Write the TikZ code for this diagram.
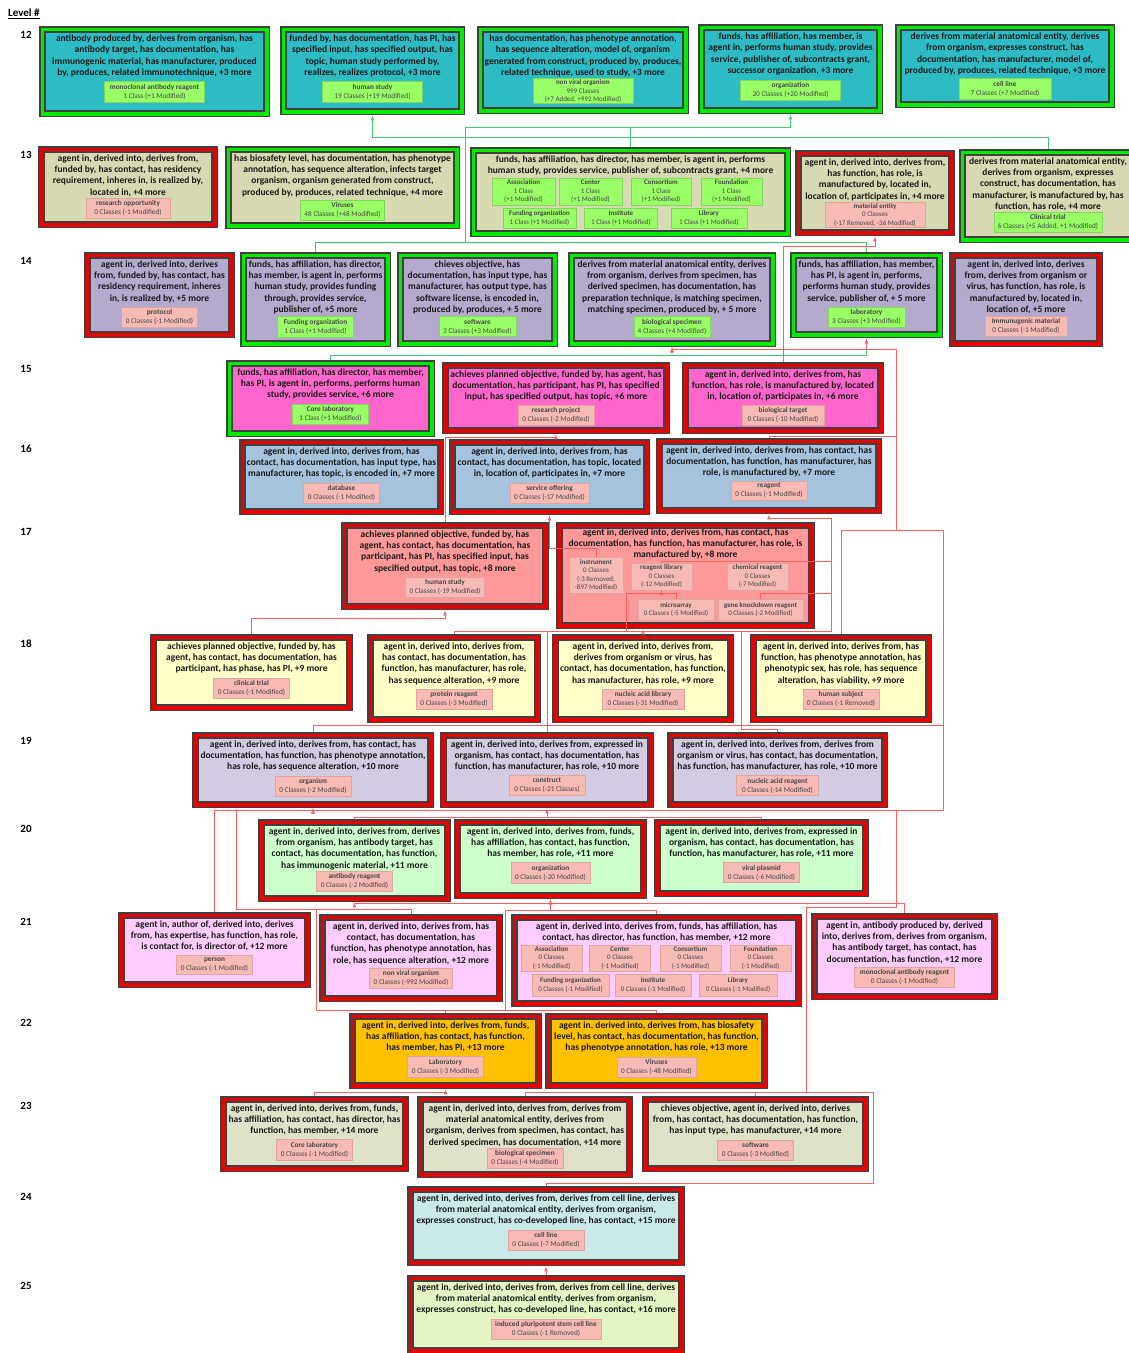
\documentclass[tikz,border=0pt]{standalone}
\usepackage{fontspec}
\setmainfont{Carlito}
\usepackage{tikz}
\usetikzlibrary{positioning, arrows, fit}

\definecolor{edgegray}{RGB}{64,64,64}
\definecolor{framegreen}{RGB}{0,235,0}
\definecolor{framered}{RGB}{235,0,0}
\definecolor{textdark}{RGB}{25,25,25}
\definecolor{subtext}{RGB}{70,70,70}
\definecolor{subgreen}{RGB}{153,255,102}
\definecolor{subgreenline}{RGB}{130,215,95}
\definecolor{subred}{RGB}{248,186,181}
\definecolor{subredline}{RGB}{225,165,160}
\definecolor{linegreen}{RGB}{70,200,110}
\definecolor{linered}{RGB}{255,95,95}
\definecolor{lev12}{RGB}{45,187,196}
\definecolor{lev13}{RGB}{214,217,177}
\definecolor{lev14}{RGB}{179,170,206}
\definecolor{lev15}{RGB}{255,102,204}
\definecolor{lev16}{RGB}{165,195,221}
\definecolor{lev17}{RGB}{255,153,153}
\definecolor{lev18}{RGB}{255,255,200}
\definecolor{lev19}{RGB}{211,203,226}
\definecolor{lev20}{RGB}{204,255,204}
\definecolor{lev21}{RGB}{255,204,255}
\definecolor{lev22}{RGB}{255,192,0}
\definecolor{lev23}{RGB}{223,225,201}
\definecolor{lev24}{RGB}{202,234,234}
\definecolor{lev25}{RGB}{226,245,194}

\begin{document}
\begin{tikzpicture}[x=1pt, y=-1pt, node distance=3pt,
  box/.style={draw=edgegray, line width=1.6pt, inner sep=0pt,
    preaction={draw=edgegray, line width=11.4pt},
    preaction={draw=#1, line width=9pt}},
  gbox/.style={box=framegreen},
  rbox/.style={box=framered},
  txt/.style={align=center, inner sep=0pt, text=textdark, font=\fontsize{9.5}{11.4}\selectfont\bfseries},
  sub/.style={align=center, inner xsep=4pt, inner ysep=2.5pt, minimum width=76pt, line width=0.4pt, text=subtext, font=\fontsize{7.3}{9}\selectfont},
  gsub/.style={sub, fill=subgreen, draw=subgreenline},
  rsub/.style={sub, fill=subred, draw=subredline},
  msub/.style={inner ysep=1pt, inner xsep=1pt, minimum width=10pt, font=\fontsize{7}{8.5}\selectfont},
  lvl/.style={font=\fontsize{11}{13}\selectfont\bfseries, inner sep=0pt},
  gline/.style={draw=linegreen, line width=0.7pt, shorten >=5.7pt, shorten <=5.7pt},
  rline/.style={draw=linered, line width=0.7pt, shorten >=5.7pt, shorten <=5.7pt},
  sline/.style={draw=linered, line width=0.7pt}]

\useasboundingbox[fill=white] (0,0) rectangle (1129,1353);

% level numbers
\node[lvl, anchor=west] (head) at (8,14) {\underline{Level \#}};
\node[lvl] (n12) at (26,35) {12};
\node[lvl] (n13) at (26,155) {13};
\node[lvl] (n14) at (26,261) {14};
\node[lvl] (n15) at (26,369) {15};
\node[lvl] (n16) at (26,449) {16};
\node[lvl] (n17) at (26,532) {17};
\node[lvl] (n18) at (26,644) {18};
\node[lvl] (n19) at (26,741) {19};
\node[lvl] (n20) at (26,829) {20};
\node[lvl] (n21) at (26,922) {21};
\node[lvl] (n22) at (26,1023) {22};
\node[lvl] (n23) at (26,1106) {23};
\node[lvl] (n24) at (26,1197) {24};
\node[lvl] (n25) at (26,1286) {25};

% level 12
\node[gbox, fill=lev12, fit={(45,32) (264,111)}] (A1) {};
\node[txt, below=3.5pt of A1.north] (A1t) {antibody produced by, derives from organism, has\\antibody target, has documentation, has\\immunogenic material, has manufacturer, produced\\by, produces, related immunotechnique, +3 more};
\node[gsub, below=4pt of A1t, minimum width=100pt] (A1s) {\textbf{monoclonal antibody reagent}\\1 Class (+1 Modified)};

\node[gbox, fill=lev12, fit={(286,32) (459,109)}] (A2) {};
\node[txt, below=3.5pt of A2.north] (A2t) {funded by, has documentation, has PI, has\\specified input, has specified output, has\\topic, human study performed by,\\realizes, realizes protocol, +3 more};
\node[gsub, below=4pt of A2t, minimum width=100pt] (A2s) {\textbf{human study}\\19 Classes (+19 Modified)};

\node[gbox, fill=lev12, fit={(483,32) (683,108)}] (A3) {};
\node[txt, below=3.5pt of A3.north] (A3t) {has documentation, has phenotype annotation,\\has sequence alteration, model of, organism\\generated from construct, produced by, produces,\\related technique, used to study, +3 more};
\node[gsub, msub, below=1pt of A3t, minimum width=100pt] (A3s) {\textbf{non viral organism}\\999 Classes\\(+7 Added, +992 Modified)};

\node[gbox, fill=lev12, fit={(704,30) (877,108)}] (A4) {};
\node[txt, below=3.5pt of A4.north] (A4t) {funds, has affiliation, has member, is\\agent in, performs human study, provides\\service, publisher of, subcontracts grant,\\successor organization, +3 more};
\node[gsub, below=4pt of A4t, minimum width=100pt] (A4s) {\textbf{organization}\\20 Classes (+20 Modified)};

\node[gbox, fill=lev12, fit={(901,30) (1109,102)}] (A5) {};
\node[txt, below=3.5pt of A5.north] (A5t) {derives from material anatomical entity, derives\\from organism, expresses construct, has\\documentation, has manufacturer, model of,\\produced by, produces, related technique, +3 more};
\node[gsub, below=3pt of A5t, minimum width=92pt] (A5s) {\textbf{cell line}\\7 Classes (+7 Modified)};

% level 13
\node[rbox, fill=lev13, fit={(44,152) (212,222)}] (B1) {};
\node[txt, below=3pt of B1.north] (B1t) {agent in, derived into, derives from,\\funded by, has contact, has residency\\requirement, inheres in, is realized by,\\located in, +4 more};
\node[rsub, below=1pt of B1t, minimum width=84pt] (B1s) {\textbf{research opportunity}\\0 Classes (-1 Modified)};

\node[gbox, fill=lev13, fit={(231,152) (454,223)}] (B2) {};
\node[txt, below=3pt of B2.north] (B2t) {has biosafety level, has documentation, has phenotype\\annotation, has sequence alteration, infects target\\organism, organism generated from construct,\\produced by, produces, related technique, +4 more};
\node[gsub, below=of B2t, minimum width=84pt] (B2s) {\textbf{Viruses}\\48 Classes (+48 Modified)};

\node[gbox, fill=lev13, fit={(476,153) (785,231)}] (B3) {};
\node[txt, below=3pt of B3.north] (B3t) {funds, has affiliation, has director, has member, is agent in, performs\\human study, provides service, publisher of, subcontracts grant, +4 more};
\node[gsub, msub, minimum width=63pt, minimum height=27pt] (B3a) at (523.5,191.5) {\textbf{Association}\\1 Class\\(+1 Modified)};
\node[gsub, msub, minimum width=63pt, minimum height=27pt] (B3b) at (590.5,191.5) {\textbf{Center}\\1 Class\\(+1 Modified)};
\node[gsub, msub, minimum width=60pt, minimum height=27pt] (B3c) at (661,191.5) {\textbf{Consortium}\\1 Class\\(+1 Modified)};
\node[gsub, msub, minimum width=61pt, minimum height=27pt] (B3d) at (731.5,191.5) {\textbf{Foundation}\\1 Class\\(+1 Modified)};
\node[gsub, msub, minimum width=73pt, minimum height=20pt] (B3e) at (539.5,218) {\textbf{Funding organization}\\1 Class (+1 Modified)};
\node[gsub, msub, minimum width=73pt, minimum height=20pt] (B3f) at (621,218) {\textbf{Institute}\\1 Class (+1 Modified)};
\node[gsub, msub, minimum width=76pt, minimum height=20pt] (B3g) at (709,218) {\textbf{Library}\\1 Class (+1 Modified)};

\node[rbox, fill=lev13, fit={(801,156) (949,230)}] (B4) {};
\node[txt, below=3pt of B4.north] (B4t) {agent in, derived into, derives from,\\has function, has role, is\\manufactured by, located in,\\location of, participates in, +4 more};
\node[rsub, msub, below=1pt of B4t, minimum width=100pt] (B4s) {\textbf{material entity}\\0 Classes\\(-17 Removed, -36 Modified)};

\node[gbox, fill=lev13, fit={(965,155) (1131,237)}] (B5) {};
\node[txt, below=3pt of B5.north] (B5t) {derives from material anatomical entity,\\derives from organism, expresses\\construct, has documentation, has\\manufacturer, is manufactured by, has\\function, has role, +4 more};
\node[gsub, below=1pt of B5t, minimum width=108pt] (B5s) {\textbf{Clinical trial}\\6 Classes (+5 Added, +1 Modified)};

% level 14
\node[rbox, fill=lev14, fit={(90,258) (229,332)}] (C1) {};
\node[txt, below=3pt of C1.north] (C1t) {agent in, derived into, derives\\from, funded by, has contact, has\\residency requirement, inheres\\in, is realized by, +5 more};
\node[rsub, below=4pt of C1t] (C1s) {\textbf{protocol}\\0 Classes (-1 Modified)};

\node[gbox, fill=lev14, fit={(246,258) (385,341)}] (C2) {};
\node[txt, below=3pt of C2.north] (C2t) {funds, has affiliation, has director,\\has member, is agent in, performs\\human study, provides funding\\through, provides service,\\publisher of, +5 more};
\node[gsub, below=2pt of C2t] (C2s) {\textbf{Funding organization}\\1 Class (+1 Modified)};

\node[gbox, fill=lev14, fit={(403,258) (552,341)}] (C3) {};
\node[txt, below=3pt of C3.north] (C3t) {chieves objective, has\\documentation, has input type, has\\manufacturer, has output type, has\\software license, is encoded in,\\produced by, produces, + 5 more};
\node[gsub, below=2pt of C3t] (C3s) {\textbf{software}\\3 Classes (+3 Modified)};

\node[gbox, fill=lev14, fit={(574,258) (770,341)}] (C4) {};
\node[txt, below=3pt of C4.north] (C4t) {derives from material anatomical entity, derives\\from organism, derives from specimen, has\\derived specimen, has documentation, has\\preparation technique, is matching specimen,\\matching specimen, produced by, + 5 more};
\node[gsub, below=2pt of C4t] (C4s) {\textbf{biological specimen}\\4 Classes (+4 Modified)};

\node[gbox, fill=lev14, fit={(796,258) (937,332)}] (C5) {};
\node[txt, below=3pt of C5.north] (C5t) {funds, has affiliation, has member,\\has PI, is agent in, performs,\\performs human study, provides\\service, publisher of, + 5 more};
\node[gsub, below=4pt of C5t] (C5s) {\textbf{laboratory}\\3 Classes (+3 Modified)};

\node[rbox, fill=lev14, fit={(955,258) (1097,341)}] (C6) {};
\node[txt, below=3pt of C6.north] (C6t) {agent in, derived into, derives\\from, derives from organism or\\virus, has function, has role, is\\manufactured by, located in,\\location of, +5 more};
\node[rsub, below=2pt of C6t, minimum width=82pt] (C6s) {\textbf{Immunugenic material}\\0 Classes (-1 Modified)};

% level 15
\node[gbox, fill=lev15, fit={(232,366) (429,431)}] (D1) {};
\node[txt, below=3pt of D1.north] (D1t) {funds, has affiliation, has director, has member,\\has PI, is agent in, performs, performs human\\study, provides service, +6 more};
\node[gsub, below=4pt of D1t] (D1s) {\textbf{Core laboratory}\\1 Class (+1 Modified)};

\node[rbox, fill=lev15, fit={(448,368) (664,428)}] (D2) {};
\node[txt, below=3pt of D2.north] (D2t) {achieves planned objective, funded by, has agent, has\\documentation, has participant, has PI, has specified\\input, has specified output, has topic, +6 more};
\node[rsub, below=of D2t] (D2s) {\textbf{research project}\\0 Classes (-2 Modified)};

\node[rbox, fill=lev15, fit={(688,368) (878,428)}] (D3) {};
\node[txt, below=3pt of D3.north] (D3t) {agent in, derived into, derives from, has\\function, has role, is manufactured by, located\\in, location of, participates in, +6 more};
\node[rsub, below=of D3t, minimum width=82pt] (D3s) {\textbf{biological target}\\0 Classes (-10 Modified)};

% level 16
\node[rbox, fill=lev16, fit={(245,445) (438,509)}] (E1) {};
\node[txt, below=3pt of E1.north] (E1t) {agent in, derived into, derives from, has\\contact, has documentation, has input type, has\\manufacturer, has topic, is encoded in, +7 more};
\node[rsub, below=4pt of E1t] (E1s) {\textbf{database}\\0 Classes (-1 Modified)};

\node[rbox, fill=lev16, fit={(455,445) (644,509)}] (E2) {};
\node[txt, below=3pt of E2.north] (E2t) {agent in, derived into, derives from, has\\contact, has documentation, has topic, located\\in, location of, participates in, +7 more};
\node[rsub, below=4pt of E2t] (E2s) {\textbf{service offering}\\0 Classes (-17 Modified)};

\node[rbox, fill=lev16, fit={(662,444) (876,508)}] (E3) {};
\node[txt, below=3pt of E3.north] (E3t) {agent in, derived into, derives from, has contact, has\\documentation, has function, has manufacturer, has\\role, is manufactured by,  +7 more};
\node[rsub, below=of E3t] (E3s) {\textbf{reagent}\\0 Classes (-1 Modified)};

% level 17
\node[rbox, fill=lev17, fit={(347,528) (543,604)}] (F1) {};
\node[txt, below=3pt of F1.north] (F1t) {achieves planned objective, funded by, has\\agent, has contact, has documentation, has\\participant, has PI, has specified input, has\\specified output, has topic, +8 more};
\node[rsub, below=4pt of F1t] (F1s) {\textbf{human study}\\0 Classes (-19 Modified)};

\node[rbox, fill=lev17, fit={(562,528) (809,623)}] (F2) {};
\node[txt, below=1pt of F2.north] (F2t) {agent in, derived into, derives from, has contact, has\\documentation, has function, has manufacturer, has role, is\\manufactured by, +8 more};
\node[rsub, msub, minimum width=54pt, minimum height=36pt] (in) at (596,575) {\textbf{instrument}\\0 Classes\\(-3 Removed,\\-897 Modified)};
\node[rsub, msub, minimum width=61pt, minimum height=27pt] (rl) at (661.5,576.5) {\textbf{reagent library}\\0 Classes\\(-12 Modified)};
\node[rsub, msub, minimum width=61pt, minimum height=27pt] (cr) at (757.5,576.5) {\textbf{chemical reagent}\\0 Classes\\(-7 Modified)};
\node[rsub, msub, minimum width=76pt, minimum height=21pt] (ma) at (676,609.5) {\textbf{microarray}\\0 Classes (-5 Modified)};
\node[rsub, msub, minimum width=85pt, minimum height=21pt] (gk) at (760.5,609.5) {\textbf{gene knockdown reagent}\\0 Classes (-2 Modified)};

% level 18
\node[rbox, fill=lev18, fit={(156,640) (347,705)}] (G1) {};
\node[txt, below=3pt of G1.north] (G1t) {achieves planned objective, funded by, has\\agent, has contact, has documentation, has\\participant, has phase, has PI, +9 more};
\node[rsub, below=4pt of G1t] (G1s) {\textbf{clinical trial}\\0 Classes (-1 Modified)};

\node[rbox, fill=lev18, fit={(373,640) (535,717)}] (G2) {};
\node[txt, below=3pt of G2.north] (G2t) {agent in, derived into, derives from,\\has contact, has documentation, has\\function, has manufacturer, has role,\\has sequence alteration, +9 more};
\node[rsub, below=4pt of G2t] (G2s) {\textbf{protein reagent}\\0 Classes (-3 Modified)};

\node[rbox, fill=lev18, fit={(558,640) (728,717)}] (G3) {};
\node[txt, below=3pt of G3.north] (G3t) {agent in, derived into, derives from,\\derives from organism or virus, has\\contact, has documentation, has function,\\has manufacturer, has role, +9 more};
\node[rsub, below=4pt of G3t, minimum width=82pt] (G3s) {\textbf{nucleic acid library}\\0 Classes (-31 Modified)};

\node[rbox, fill=lev18, fit={(756,640) (926,717)}] (G4) {};
\node[txt, below=3pt of G4.north] (G4t) {agent in, derived into, derives from, has\\function, has phenotype annotation, has\\phenotypic sex, has role, has sequence\\alteration, has viability, +9 more};
\node[rsub, below=4pt of G4t] (G4s) {\textbf{human subject}\\0 Classes (-1 Removed)};

% level 19
\node[rbox, fill=lev19, fit={(198,738) (428,802)}] (H1) {};
\node[txt, below=3pt of H1.north] (H1t) {agent in, derived into, derives from, has contact, has\\documentation, has function, has phenotype annotation,\\has role, has sequence alteration, +10 more};
\node[rsub, below=4pt of H1t] (H1s) {\textbf{organism}\\0 Classes (-2 Modified)};

\node[rbox, fill=lev19, fit={(446,738) (648,802)}] (H2) {};
\node[txt, below=3pt of H2.north] (H2t) {agent in, derived into, derives from, expressed in\\organism, has contact, has documentation, has\\function, has manufacturer, has role, +10 more};
\node[rsub, below=4pt of H2t] (H2s) {\textbf{construct}\\0 Classes (-21 Classes)};

\node[rbox, fill=lev19, fit={(673,738) (882,802)}] (H3) {};
\node[txt, below=3pt of H3.north] (H3t) {agent in, derived into, derives from, derives from\\organism or virus, has contact, has documentation,\\has function, has manufacturer, has role, +10 more};
\node[rsub, below=4pt of H3t, minimum width=82pt] (H3s) {\textbf{nucleic acid reagent}\\0 Classes (-14 Modified)};

% level 20
\node[rbox, fill=lev20, fit={(264,825) (445,896)}] (I1) {};
\node[txt, below=3pt of I1.north] (I1t) {agent in, derived into, derives from, derives\\from organism, has antibody target, has\\contact, has documentation, has function,\\has immunogenic material, +11 more};
\node[rsub, below=1pt of I1t] (I1s) {\textbf{antibody reagent}\\0 Classes (-2 Modified)};

\node[rbox, fill=lev20, fit={(460,825) (641,893)}] (I2) {};
\node[txt, below=3pt of I2.north] (I2t) {agent in, derived into, derives from, funds,\\has affiliation, has contact, has function,\\has member, has role, +11 more};
\node[rsub, below=4pt of I2t] (I2s) {\textbf{organization}\\0 Classes (-20 Modified)};

\node[rbox, fill=lev20, fit={(660,825) (863,891)}] (I3) {};
\node[txt, below=3pt of I3.north] (I3t) {agent in, derived into, derives from, expressed in\\organism, has contact, has documentation, has\\function, has manufacturer, has role,  +11 more};
\node[rsub, below=4pt of I3t] (I3s) {\textbf{viral plasmid}\\0 Classes (-6 Modified)};

% level 21
\node[rbox, fill=lev21, fit={(124,918) (305,982)}] (J1) {};
\node[txt, below=3pt of J1.north] (J1t) {agent in, author of, derived into, derives\\from, has expertise, has function, has role,\\is contact for, is director of, +12 more};
\node[rsub, below=4pt of J1t] (J1s) {\textbf{person}\\0 Classes (-1 Modified)};

\node[rbox, fill=lev21, fit={(325,920) (497,996)}] (J2) {};
\node[txt, below=3pt of J2.north] (J2t) {agent in, derived into, derives from, has\\contact, has documentation, has\\function, has phenotype annotation, has\\role, has sequence alteration, +12 more};
\node[rsub, below=3pt of J2t, minimum width=82pt] (J2s) {\textbf{non viral organism}\\0 Classes (-992 Modified)};

\node[rbox, fill=lev21, fit={(517,920) (796,1001)}] (J3) {};
\node[txt, below=3pt of J3.north] (J3t) {agent in, derived into, derives from, funds, has affiliation, has\\contact, has director, has function, has member, +12 more};
\node[rsub, msub, minimum width=61pt, minimum height=26pt] (J3a) at (551.5,958) {\textbf{Association}\\0 Classes\\(-1 Modified)};
\node[rsub, msub, minimum width=61pt, minimum height=26pt] (J3b) at (620,958) {\textbf{Center}\\0 Classes\\(-1 Modified)};
\node[rsub, msub, minimum width=61pt, minimum height=26pt] (J3c) at (690.5,958) {\textbf{Consortium}\\0 Classes\\(-1 Modified)};
\node[rsub, msub, minimum width=61pt, minimum height=26pt] (J3d) at (760.5,958) {\textbf{Foundation}\\0 Classes\\(-1 Modified)};
\node[rsub, msub, minimum width=77pt, minimum height=22pt] (J3e) at (570.5,985) {\textbf{Funding organization}\\0 Classes  (-1 Modified)};
\node[rsub, msub, minimum width=76pt, minimum height=22pt] (J3f) at (653,985) {\textbf{Institute}\\0 Classes (-1 Modified)};
\node[rsub, msub, minimum width=78pt, minimum height=22pt] (J3g) at (738,985) {\textbf{Library}\\0 Classes (-1 Modified)};

\node[rbox, fill=lev21, fit={(817,919) (992,994)}] (J4) {};
\node[txt, below=3pt of J4.north] (J4t) {agent in, antibody produced by, derived\\into, derives from, derives from organism,\\has antibody target, has contact, has\\documentation, has function, +12 more};
\node[rsub, below=3pt of J4t, minimum width=100pt] (J4s) {\textbf{monoclonal antibody reagent}\\0 Classes (-1 Modified)};

% level 22
\node[rbox, fill=lev22, fit={(355,1019) (536,1083)}] (K1) {};
\node[txt, below=3pt of K1.north] (K1t) {agent in, derived into, derives from, funds,\\has affiliation, has contact, has function,\\has member, has PI, +13 more};
\node[rsub, below=4pt of K1t] (K1s) {\textbf{Laboratory}\\0 Classes (-3 Modified)};

\node[rbox, fill=lev22, fit={(551,1019) (762,1083)}] (K2) {};
\node[txt, below=3pt of K2.north] (K2t) {agent in, derived into, derives from, has biosafety\\level, has contact, has documentation, has function,\\has phenotype annotation, has role, +13 more};
\node[rsub, below=4pt of K2t] (K2s) {\textbf{Viruses}\\0 Classes (-48 Modified)};

% level 23
\node[rbox, fill=lev23, fit={(226,1102) (403,1166)}] (L1) {};
\node[txt, below=3pt of L1.north] (L1t) {agent in, derived into, derives from, funds,\\has affiliation, has contact, has director, has\\function, has member, +14 more};
\node[rsub, below=4pt of L1t] (L1s) {\textbf{Core laboratory}\\0 Classes (-1 Modified)};

\node[rbox, fill=lev23, fit={(423,1102) (627,1172)}] (L2) {};
\node[txt, below=3pt of L2.north] (L2t) {agent in, derived into, derives from, derives from\\material anatomical entity, derives from\\organism, derives from specimen, has contact, has\\derived specimen, has documentation, +14 more};
\node[rsub, below=1pt of L2t] (L2s) {\textbf{biological specimen}\\0 Classes (-4 Modified)};

\node[rbox, fill=lev23, fit={(648,1102) (863,1166)}] (L3) {};
\node[txt, below=3pt of L3.north] (L3t) {chieves objective, agent in, derived into, derives\\from, has contact, has documentation, has function,\\has input type, has manufacturer, +14 more};
\node[rsub, below=4pt of L3t] (L3s) {\textbf{software}\\0 Classes (-3 Modified)};

% level 24, 25
\node[rbox, fill=lev24, fit={(413,1192) (679,1260)}] (M1) {};
\node[txt, below=3pt of M1.north] (M1t) {agent in, derived into, derives from, derives from cell line, derives\\from material anatomical entity, derives from organism,\\expresses construct, has co-developed line, has contact, +15 more};
\node[rsub, below=4pt of M1t] (M1s) {\textbf{cell line}\\0 Classes (-7 Modified)};

\node[rbox, fill=lev25, fit={(413,1281) (679,1348)}] (N1) {};
\node[txt, below=3pt of N1.north] (N1t) {agent in, derived into, derives from, derives from cell line, derives\\from material anatomical entity, derives from organism,\\expresses construct, has co-developed line, has contact, +16 more};
\node[rsub, below=4pt of N1t, minimum width=100pt] (N1s) {\textbf{induced pluripotent stem cell line}\\0 Classes (-1 Removed)};

% added links
\draw[gline, -latex] (B3.north) |- (790.5,127) -- (A4.south);
\draw[gline, -latex] (B5.north) |- (372.5,137) -- (A2.south);
\draw[gline, shorten >=0pt] (C2.north) |- (465,242) |- (630.5,127);
\draw[gline, shorten >=0pt] (C5.north) |- (465,242);
\draw[gline, -latex] (D1.north) |- (866.5,355) -- (C5.south);

% removed and modified links
\draw[rline, -latex] (D3.north) |- (875,246) -- (B4.south);
\draw[rline, -latex] (F1.north) |- (556,437) -- (D2.south);
\draw[rline, -latex] (G1.north) |- (445,618) -- (F1.south);
\draw[rline, -latex] (E3.north) |- (896,436) -- (896,349) -| (C4.south);
\draw[rline, -latex] (G4.north) |- (896,530) -- (896,349) -| (C4.south);
\draw[rline, -latex] (H1.north) |- (943,725) |- (896,530) -- (896,349) -| (C5.south);
\draw[rline, -latex] (L3.north) |- (806,1092) |- (896,907) |- (943,810) -- (943,530) -| (896,349) -| (C4.south);
\draw[rline, shorten >=0pt] (L2.north) |- (806,1092);
\draw[rline, shorten >=0pt] (M1.north) |- (873,1183) |- (806,1092);
\draw[rline, -latex] (L1.north) |- (445.5,1092) -- (K1.south);
\draw[rline, -latex] (N1.north) -- (M1.south);
\draw[rline, -latex] (J4.north) |- (354.5,903) -- (I1.south);
\draw[rline, -latex] (J3.north) |- (550.5,910) -- (I2.south);
\draw[rline, -latex] (K1.north) |- (505,1010) |- (550.5,910) -- (I2.south);
\draw[rline, -latex] (K2.north) |- (316,1010) |- (236,909) |- (313,810) -- (H1.south);
\draw[rline, -latex] (J2.north) |- (236,909) |- (313,810) -- (H1.south);
\draw[rline, -latex] (J1.north) |- (313,810) -- (H1.south);
\draw[rline, shorten >=0pt] (J1.north) |- (943,810);
\draw[rline, -latex] (I3.north) |- (547,817) -- (H2.south);
\draw[rline, shorten >=0pt] (I1.north) |- (547,817);
\draw[rline, -latex] (G2.north) |- (831,631) |- (769,518) -- (E3.south);
\draw[rline, shorten >=0pt] (H2.north) |- (831,631);
\draw[rline, shorten >=0pt] (H3.north) |- (741,729) |- (831,631);
\draw[rline, -latex] (G3.north) -- (G3.north |- F2.south);

% links inside the reagent box
\draw[sline, -latex] (ma.north) |- (661.5,593) -- (rl.south);
\draw[sline] (gk.north) |- (831,593);
\draw[sline] (ma.north) |- (626,593) -- (626,631);
\draw[sline] (rl.north) |- (831,561) -- (831,631);
\draw[sline] (cr.north) |- (831,561);
\draw[sline, -latex, shorten >=5.7pt] (in.north) |- (549.5,548) -- (E2.south);
\end{tikzpicture}
\end{document}
